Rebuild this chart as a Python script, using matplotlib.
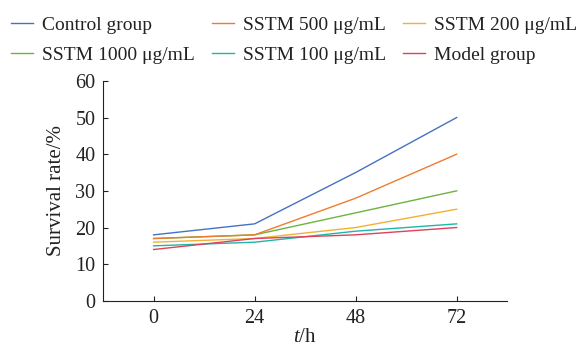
import matplotlib
matplotlib.use("Agg")
import matplotlib.pyplot as plt

plt.rcParams['font.family'] = ['Liberation Serif', 'DejaVu Serif']
plt.rcParams['mathtext.fontset'] = 'custom'
plt.rcParams['mathtext.it'] = 'Liberation Serif:italic'
plt.rcParams['mathtext.rm'] = 'Liberation Serif'

hours = [0, 24, 48, 72]
control = [18, 21, 35, 50]
sstm500 = [17, 18, 28, 40]
sstm200 = [16, 17, 20, 25]
sstm1000 = [17, 18, 24, 30]
sstm100 = [15, 16, 19, 21]
model = [14, 17, 18, 20]
yticks = [0, 10, 20, 30, 40, 50, 60]

series = [
    ("Control group", control, "#4472C4"),
    ("SSTM 1000 μg/mL", sstm1000, "#6DB33F"),
    ("SSTM 500 μg/mL", sstm500, "#ED7D31"),
    ("SSTM 100 μg/mL", sstm100, "#1CB8A8"),
    ("SSTM 200 μg/mL", sstm200, "#F2B134"),
    ("Model group", model, "#E0405A"),
]

fig = plt.figure(figsize=(5.79, 3.47), dpi=100)
ax = fig.add_axes([0.178, 0.133, 0.698, 0.634])
handles = []
for name, vals, col in series:
    h, = ax.plot(hours, vals, color=col, lw=1.0, label=name)
    handles.append(h)

ax.set_xlim(-12, 84)
ax.set_ylim(0, 60)
ax.set_xticks(hours)
ax.set_yticks(yticks)
ax.tick_params(direction='in', labelsize=14.5, length=3.6, width=0.8, colors='#222222')
ax.tick_params(axis='x', pad=6.0)
ax.tick_params(axis='y', pad=5.5)
for s in ['top', 'right']:
    ax.spines[s].set_visible(False)
for s in ['left', 'bottom']:
    ax.spines[s].set_color('#222222')
ax.set_ylabel("Survival rate/%", fontsize=15, labelpad=7, color='#222222')
ax.set_xlabel("$t$/h", fontsize=15, labelpad=0, color='#222222')

col_x = [0.019, 0.366, 0.696]
for i, x0 in enumerate(col_x):
    leg = fig.legend(handles=handles[2 * i:2 * i + 2], loc='upper left',
                     bbox_to_anchor=(x0, 0.952), ncol=1, frameon=False,
                     fontsize=14, handlelength=1.13, handletextpad=0.46,
                     labelspacing=0.62, borderpad=0, borderaxespad=0,
                     labelcolor='#222222')

fig.savefig("out.png", dpi=100)
